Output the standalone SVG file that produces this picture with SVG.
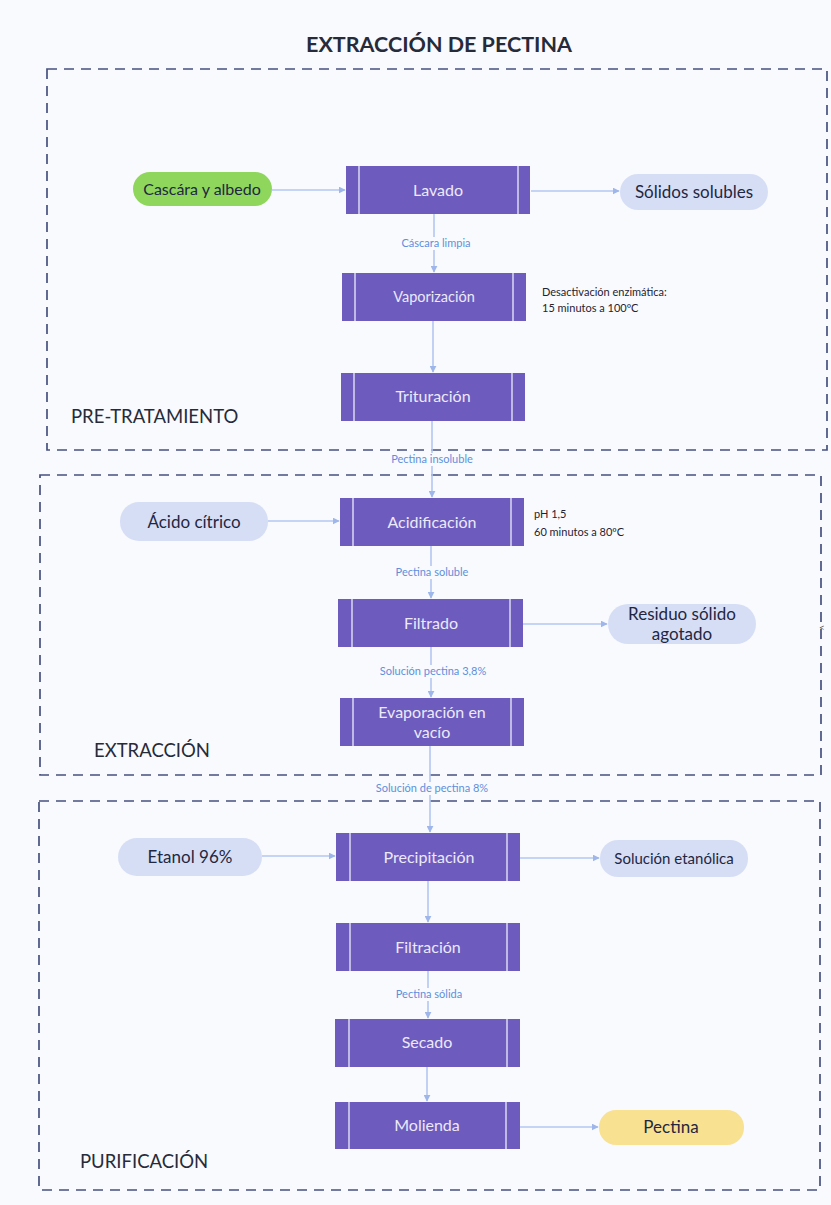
<svg xmlns="http://www.w3.org/2000/svg" width="831" height="1205" viewBox="0 0 831 1205">
<defs>
<marker id="ah" viewBox="0 0 10 10" refX="9" refY="5" markerWidth="7" markerHeight="7" orient="auto" markerUnits="userSpaceOnUse">
<path d="M0,0 L10,5 L0,10 z" fill="#9fb6ea"/>
</marker>
<style>
.bg{fill:#f9fafd}
.sec{fill:none;stroke:#46507f;stroke-width:1.7;stroke-dasharray:10 7}
.proc{fill:#6d5bbd}
.bar{stroke:#dcd7f3;stroke-width:1.5}
.ptxt{font-family:Lato,"Liberation Sans",sans-serif;font-size:16px;fill:#ece9fa;text-anchor:middle}
.pill{fill:#d6def6}
.green{fill:#8fd65c}
.yellow{fill:#f8e190}
.pilltxt{font-family:Lato,"Liberation Sans",sans-serif;font-size:17px;fill:#1f2742;text-anchor:middle}
.con{stroke:#b3c7f0;stroke-width:1.6;fill:none;marker-end:url(#ah)}
.lbl{font-family:Lato,"Liberation Sans",sans-serif;font-size:11px;fill:#5e8fdc;text-anchor:middle}
.lblbg{fill:#f9fafd}
.note{font-family:Lato,"Liberation Sans",sans-serif;font-size:11px;fill:#1f2333}
.seclbl{font-family:Lato,"Liberation Sans",sans-serif;font-size:18.5px;fill:#262b3a}
.title{font-family:Lato,"Liberation Sans",sans-serif;font-size:21.5px;font-weight:bold;fill:#262b3a;text-anchor:middle}
</style>
</defs>
<rect class="bg" x="0" y="0" width="831" height="1205"/>
<text class="title" x="439" y="52">EXTRACCIÓN DE PECTINA</text>

<g id="sections">
<rect class="sec" x="47" y="69" width="780" height="381"/>
<rect class="sec" x="40" y="475" width="781" height="300"/>
<rect class="sec" x="39" y="801" width="781" height="389"/>
<text class="seclbl" x="71" y="423">PRE-TRATAMIENTO</text>
<text class="seclbl" x="94" y="757">EXTRACCIÓN</text>
<text class="seclbl" x="80" y="1168">PURIFICACIÓN</text>
</g>

<g id="connectors">
<line class="con" x1="434" y1="214" x2="434" y2="272"/>
<line class="con" x1="433" y1="321" x2="433" y2="372"/>
<line class="con" x1="432" y1="421" x2="432" y2="497"/>
<line class="con" x1="431" y1="546" x2="431" y2="598"/>
<line class="con" x1="431" y1="647" x2="431" y2="697"/>
<line class="con" x1="430" y1="746" x2="430" y2="832"/>
<line class="con" x1="428" y1="881" x2="428" y2="922"/>
<line class="con" x1="428" y1="971" x2="428" y2="1018"/>
<line class="con" x1="427" y1="1067" x2="427" y2="1101"/>
<line class="con" x1="272" y1="190" x2="345" y2="190"/>
<line class="con" x1="531" y1="191" x2="619" y2="191"/>
<line class="con" x1="268" y1="521" x2="339" y2="521"/>
<line class="con" x1="523" y1="624" x2="607" y2="624"/>
<line class="con" x1="262" y1="856" x2="335" y2="856"/>
<line class="con" x1="520" y1="858" x2="599" y2="858"/>
<line class="con" x1="520" y1="1127" x2="598" y2="1127"/>
<rect class="lblbg" x="396" y="237" width="80" height="13"/>
<text class="lbl" x="436" y="247">Cáscara limpia</text>
<rect class="lblbg" x="380" y="453" width="104" height="13"/>
<text class="lbl" x="432" y="463">Pectina insoluble</text>
<rect class="lblbg" x="386" y="566" width="90" height="13"/>
<text class="lbl" x="432" y="576">Pectina soluble</text>
<rect class="lblbg" x="366" y="665" width="134" height="13"/>
<text class="lbl" x="433" y="675">Solución pectina 3,8%</text>
<rect class="lblbg" x="362" y="782" width="140" height="13"/>
<text class="lbl" x="432" y="792">Solución de pectina 8%</text>
<rect class="lblbg" x="386" y="988" width="86" height="13"/>
<text class="lbl" x="429" y="998">Pectina sólida</text>
</g>

<g id="lavado">
<rect class="proc" x="346" y="166" width="184" height="48"/>
<line class="bar" x1="359" y1="166" x2="359" y2="214"/><line class="bar" x1="518" y1="166" x2="518" y2="214"/>
<text class="ptxt" x="438" y="196">Lavado</text>
</g>
<g id="vaporizacion">
<rect class="proc" x="342" y="273" width="184" height="48"/>
<line class="bar" x1="355" y1="273" x2="355" y2="321"/><line class="bar" x1="513" y1="273" x2="513" y2="321"/>
<text class="ptxt" x="434" y="302" style="font-size:14.5px">Vaporización</text>
</g>
<g id="trituracion">
<rect class="proc" x="341" y="373" width="184" height="48"/>
<line class="bar" x1="354" y1="373" x2="354" y2="421"/><line class="bar" x1="512" y1="373" x2="512" y2="421"/>
<text class="ptxt" x="433" y="402">Trituración</text>
</g>
<g id="acidificacion">
<rect class="proc" x="340" y="498" width="184" height="48"/>
<line class="bar" x1="353" y1="498" x2="353" y2="546"/><line class="bar" x1="511" y1="498" x2="511" y2="546"/>
<text class="ptxt" x="432" y="528">Acidificación</text>
</g>
<g id="filtrado">
<rect class="proc" x="338" y="599" width="185" height="48"/>
<line class="bar" x1="352" y1="599" x2="352" y2="647"/><line class="bar" x1="510" y1="599" x2="510" y2="647"/>
<text class="ptxt" x="431" y="629">Filtrado</text>
</g>
<g id="evaporacion">
<rect class="proc" x="340" y="698" width="184" height="48"/>
<line class="bar" x1="353" y1="698" x2="353" y2="746"/><line class="bar" x1="511" y1="698" x2="511" y2="746"/>
<text class="ptxt" x="432" y="718">Evaporación en</text>
<text class="ptxt" x="432" y="738">vacío</text>
</g>
<g id="precipitacion">
<rect class="proc" x="336" y="833" width="184" height="48"/>
<line class="bar" x1="350" y1="833" x2="350" y2="881"/><line class="bar" x1="507" y1="833" x2="507" y2="881"/>
<text class="ptxt" x="429" y="863">Precipitación</text>
</g>
<g id="filtracion">
<rect class="proc" x="336" y="923" width="184" height="48"/>
<line class="bar" x1="350" y1="923" x2="350" y2="971"/><line class="bar" x1="507" y1="923" x2="507" y2="971"/>
<text class="ptxt" x="428" y="953">Filtración</text>
</g>
<g id="secado">
<rect class="proc" x="335" y="1019" width="185" height="48"/>
<line class="bar" x1="349" y1="1019" x2="349" y2="1067"/><line class="bar" x1="507" y1="1019" x2="507" y2="1067"/>
<text class="ptxt" x="427" y="1048">Secado</text>
</g>
<g id="molienda">
<rect class="proc" x="335" y="1102" width="185" height="47"/>
<line class="bar" x1="349" y1="1102" x2="349" y2="1149"/><line class="bar" x1="506" y1="1102" x2="506" y2="1149"/>
<text class="ptxt" x="427" y="1131">Molienda</text>
</g>

<g id="cascara">
<rect class="green" x="133" y="172" width="139" height="34" rx="17"/>
<text class="pilltxt" x="202" y="195" style="font-size:16px">Cascára y albedo</text>
</g>
<g id="solidos">
<rect class="pill" x="620" y="174" width="148" height="36" rx="18"/>
<text class="pilltxt" x="694" y="198">Sólidos solubles</text>
</g>
<g id="acido">
<rect class="pill" x="120" y="502" width="148" height="39" rx="19"/>
<text class="pilltxt" x="194" y="528">Ácido cítrico</text>
</g>
<g id="residuo">
<rect class="pill" x="608" y="604" width="148" height="40" rx="20"/>
<text class="pilltxt" x="682" y="620">Residuo sólido</text>
<text class="pilltxt" x="682" y="640">agotado</text>
</g>
<g id="etanol">
<rect class="pill" x="118" y="838" width="144" height="38" rx="19"/>
<text class="pilltxt" x="190" y="863">Etanol 96%</text>
</g>
<g id="solucion-etanolica">
<rect class="pill" x="600" y="840" width="148" height="37" rx="18"/>
<text class="pilltxt" x="674" y="864" style="font-size:15px">Solución etanólica</text>
</g>
<g id="pectina">
<rect class="yellow" x="599" y="1110" width="145" height="35" rx="17"/>
<text class="pilltxt" x="671" y="1133">Pectina</text>
</g>

<g id="notes">
<text class="note" x="542" y="296">Desactivación enzimática:</text>
<text class="note" x="542" y="312">15 minutos a 100ºC</text>
<text class="note" x="534" y="518">pH 1,5</text>
<text class="note" x="534" y="536">60 minutos a 80ºC</text>
<text class="note" x="819" y="631" style="font-size:10px;fill:#555">&lt;</text>
</g>
</svg>
